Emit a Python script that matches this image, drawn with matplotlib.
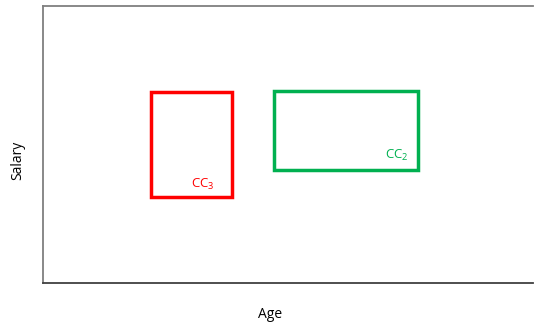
import matplotlib.pyplot as plt
from matplotlib.patches import Rectangle

plt.rcParams['font.family'] = ['Open Sans', 'DejaVu Sans']

# clusters: (name, x0, y0, x1, y1, label x, label y, colour)
names = ['CC$_\\mathregular{3}$', 'CC$_\\mathregular{2}$']
x_left = [22.0, 47.1]
x_right = [38.6, 76.5]
y_low = [31.0, 40.8]
y_high = [69.0, 69.3]
label_x = [32.7, 72.2]
label_y = [35.7, 46.2]
colors = ['#FF0000', '#00B050']

fig = plt.figure(figsize=(5.34, 3.27), dpi=100)
ax = fig.add_axes([43 / 534, 44 / 327, 490 / 534, 277 / 327])
ax.set_xlim(0, 100)
ax.set_ylim(0, 100)

for i in range(len(names)):
    ax.add_patch(Rectangle((x_left[i], y_low[i]), x_right[i] - x_left[i],
                           y_high[i] - y_low[i], fill=False,
                           edgecolor=colors[i], linewidth=2.5))
    ax.text(label_x[i], label_y[i], names[i], color=colors[i],
            fontsize=9.5, ha='center', va='center')

ax.set_xticks([])
ax.set_yticks([])
ax.spines['right'].set_visible(False)
ax.spines['left'].set_color('#7f7f7f')
ax.spines['top'].set_color('#7f7f7f')
ax.spines['bottom'].set_color('#404040')
for s in ['left', 'top', 'bottom']:
    ax.spines[s].set_linewidth(1.3)

fig.text(270 / 534, 1 - 314 / 327, 'Age', ha='center', va='center', fontsize=10)
fig.text(18 / 534, 1 - 160 / 327, 'Salary', ha='center', va='center',
         rotation=90, fontsize=10)

fig.savefig('out.png', dpi=100)
